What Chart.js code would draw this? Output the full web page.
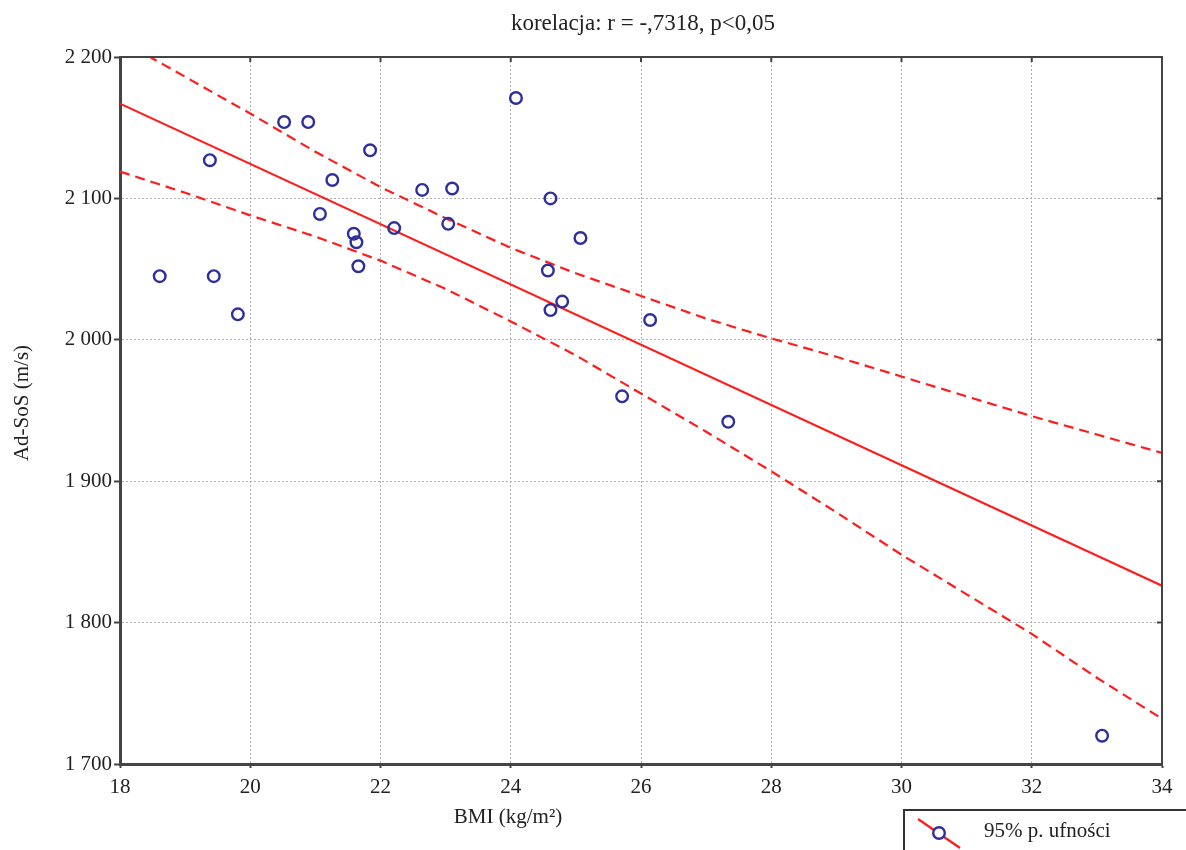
<!DOCTYPE html>
<html>
<head>
<meta charset="utf-8">
<script src="https://cdn.jsdelivr.net/npm/chart.js@4/dist/chart.umd.min.js"></script>
<style>
html, body { margin: 0; padding: 0; background: #fff; }
</style>
</head>
<body>
<canvas id="grafica" width="1186" height="850"></canvas>
<script>
// punkty pomiarowe (BMI vs Ad-SoS)
const bmi = [18.61, 19.38, 19.44, 19.81, 20.52, 20.89, 21.84, 21.26, 21.07, 21.59, 21.63, 21.66, 22.21,
             22.64, 23.10, 23.04, 24.08, 24.61, 24.57, 24.61, 24.79, 25.07, 26.14, 25.71, 27.34, 33.08];
const sos = [2045, 2127, 2045, 2018, 2154, 2154, 2134, 2113, 2089, 2075, 2069, 2052, 2079,
             2106, 2107, 2082, 2171, 2100, 2049, 2021, 2027, 2072, 2014, 1960, 1942, 1720];

// linia regresji
const regX = [18, 34];
const regY = [2167, 1826];

// 95% przedzial ufnosci
const bandX = [18, 19, 20, 21, 22, 23, 24, 25, 26, 27, 28, 29, 30, 31, 32, 33, 34];
const bandUpper = [2212, 2186, 2160, 2133, 2108, 2086, 2065, 2047, 2031, 2015, 2001, 1988, 1974, 1960, 1946, 1933, 1920];
const bandLower = [2119, 2104, 2088, 2073, 2056, 2036, 2013, 1989, 1962, 1935, 1907, 1878, 1848, 1820, 1792, 1761, 1732];

const xTicks = [18, 20, 22, 24, 26, 28, 30, 32, 34];
const yTicks = [1700, 1800, 1900, 2000, 2100, 2200];

const serif = "'Liberation Serif', 'DejaVu Serif', serif";
const red = '#ff1c1c';
const blue = '#2f2f9c';

function pts(xs, ys) {
  return xs.map((x, i) => ({x: x, y: ys[i]}));
}

function fmt(v) {
  return String(v).replace(/\B(?=(\d{3})+(?!\d))/g, ' ');
}

// tytul, opisy osi, ramka i legenda
const extras = {
  id: 'extras',
  afterDraw(chart) {
    const ctx = chart.ctx;
    const a = chart.chartArea;
    const xs = chart.scales.x, ys = chart.scales.y;
    ctx.save();

    // ramka gorna i prawa + kreski do srodka
    ctx.strokeStyle = '#444';
    ctx.lineWidth = 2;
    ctx.beginPath();
    ctx.moveTo(a.left, a.top); ctx.lineTo(a.right, a.top); ctx.lineTo(a.right, a.bottom);
    ctx.stroke();
    ctx.beginPath();
    xTicks.forEach(t => { const px = xs.getPixelForValue(t); ctx.moveTo(px, a.top); ctx.lineTo(px, a.top + 5); });
    yTicks.forEach(t => { const py = ys.getPixelForValue(t); ctx.moveTo(a.right, py); ctx.lineTo(a.right - 5, py); });
    ctx.stroke();

    ctx.fillStyle = '#222';
    ctx.textBaseline = 'middle';

    ctx.font = '23px ' + serif;
    ctx.textAlign = 'center';
    ctx.fillText('korelacja: r = -,7318, p<0,05', 643, 24);

    ctx.font = '21px ' + serif;
    ctx.fillText('BMI (kg/m\u00B2)', 508, 817);

    ctx.save();
    ctx.translate(22, 403);
    ctx.rotate(-Math.PI / 2);
    ctx.fillText('Ad-SoS (m/s)', 0, 0);
    ctx.restore();

    // legenda
    ctx.strokeStyle = '#333';
    ctx.lineWidth = 2;
    ctx.strokeRect(904, 810, 300, 60);
    ctx.strokeStyle = red;
    ctx.lineWidth = 2.2;
    ctx.beginPath(); ctx.moveTo(918, 819); ctx.lineTo(960, 848); ctx.stroke();
    ctx.fillStyle = '#fff';
    ctx.strokeStyle = blue;
    ctx.lineWidth = 2.4;
    ctx.beginPath(); ctx.arc(939, 833, 5.8, 0, Math.PI * 2); ctx.fill(); ctx.stroke();
    ctx.fillStyle = '#222';
    ctx.textAlign = 'left';
    ctx.font = '21px ' + serif;
    ctx.fillText('95% p. ufno\u015Bci', 984, 831);

    ctx.restore();
  }
};

const graph = document.getElementById('grafica');

new Chart(graph, {
  type: 'scatter',
  data: {
    datasets: [{
      label: 'punkty',
      data: pts(bmi, sos),
      pointStyle: 'circle',
      pointRadius: 5.8,
      pointBorderWidth: 2.4,
      borderColor: blue,
      backgroundColor: 'rgba(0,0,0,0)'
    }, {
      label: 'regresja',
      data: pts(regX, regY),
      showLine: true,
      pointRadius: 0,
      borderColor: red,
      borderWidth: 2.2
    }, {
      label: 'gorna granica',
      data: pts(bandX, bandUpper),
      showLine: true,
      pointRadius: 0,
      borderColor: red,
      borderWidth: 2.2,
      borderDash: [10, 6]
    }, {
      label: 'dolna granica',
      data: pts(bandX, bandLower),
      showLine: true,
      pointRadius: 0,
      borderColor: red,
      borderWidth: 2.2,
      borderDash: [10, 6]
    }]
  },
  options: {
    responsive: false,
    animation: false,
    layout: { padding: { top: 57, right: 24, left: 0, bottom: 0 } },
    plugins: {
      legend: { display: false },
      title: { display: false },
      tooltip: { enabled: false }
    },
    scales: {
      x: {
        type: 'linear',
        min: 18, max: 34,
        afterBuildTicks: s => { s.ticks = xTicks.map(v => ({value: v})); },
        afterFit: s => { s.height = 86; },
        ticks: { color: '#222', font: { family: serif, size: 21 }, padding: 7, maxRotation: 0 },
        grid: { color: '#b0b0b0', lineWidth: 1, tickLength: 4, tickColor: '#444', tickWidth: 2 },
        border: { color: '#444', width: 3, dash: [2, 2] }
      },
      y: {
        type: 'linear',
        min: 1700, max: 2200,
        afterBuildTicks: s => { s.ticks = yTicks.map(v => ({value: v})); },
        afterFit: s => { s.width = 120; },
        ticks: { color: '#222', font: { family: serif, size: 21 }, padding: 2, callback: v => fmt(v) },
        grid: { color: '#b0b0b0', lineWidth: 1, tickLength: 6, tickColor: '#444', tickWidth: 2 },
        border: { color: '#444', width: 3, dash: [2, 2] }
      }
    }
  },
  plugins: [extras]
});
</script>
</body>
</html>
